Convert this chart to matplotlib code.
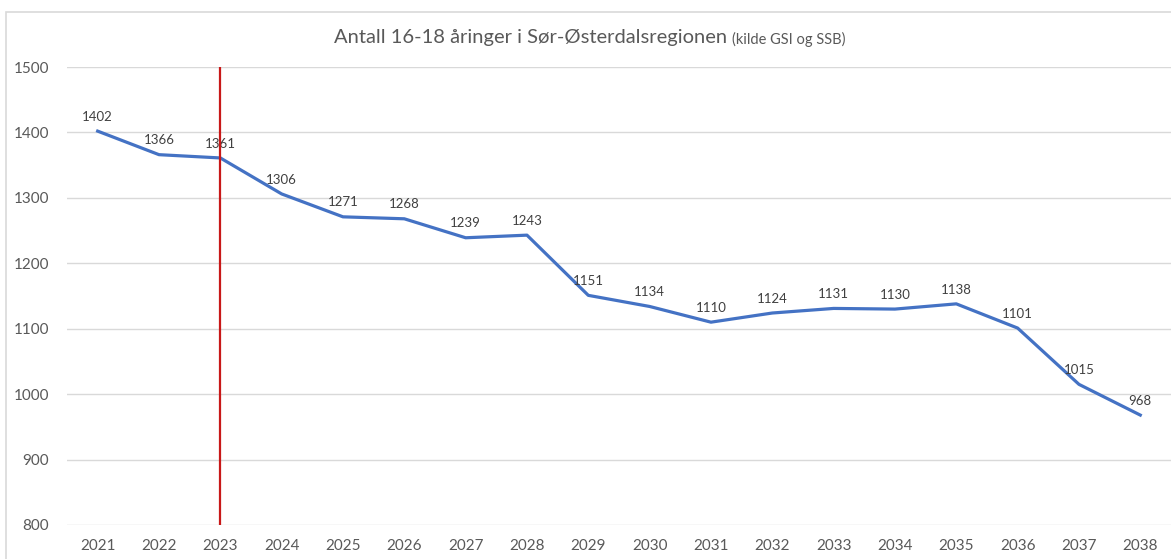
import matplotlib
matplotlib.use("Agg")
import matplotlib.pyplot as plt
from matplotlib.patches import Rectangle

years = [str(y) for y in range(2021, 2039)]
antall = [1402, 1366, 1361, 1306, 1271, 1268, 1239, 1243, 1151, 1134,
          1110, 1124, 1131, 1130, 1138, 1101, 1015, 968]
marker_year = "2023"

plt.rcParams['font.family'] = ['Lato', 'DejaVu Sans']

fig = plt.figure(figsize=(11.71, 5.59), dpi=100)
ax = fig.add_axes([67/1171, 1 - 525/559, (1174 - 67)/1171, (525 - 67)/559])

# outer chart border (Excel style)
fig.patches.append(Rectangle((6/1171, -0.1), 1.2, 1 - 12/559 + 0.1,
                             transform=fig.transFigure, fill=False,
                             edgecolor='#d9d9d9', linewidth=1.2))

x = list(range(len(years)))
ax.plot(x, antall, color='#4472C4', linewidth=2.3, zorder=3)
for i, v in enumerate(antall):
    ax.annotate(str(v), xy=(i, v), xytext=(0, 6), textcoords='offset points',
                ha='center', va='bottom', fontsize=9.5, color='#404040')

xi = years.index(marker_year)
ax.axvline(xi, color='#C81818', linewidth=1.6, zorder=4)

ax.set_xlim(-0.5, len(years) - 0.45)
ax.set_ylim(800, 1500)
ax.set_yticks(range(800, 1501, 100))
ax.set_xticks(x)
ax.set_xticklabels(years)
ax.grid(axis='y', color='#d9d9d9', linewidth=1)
ax.set_axisbelow(True)
for s in ax.spines.values():
    s.set_visible(False)
ax.tick_params(length=0, labelsize=11, colors='#595959', pad=10)
ax.tick_params(axis='y', pad=13)

fig.text(727/1171, 1 - 38/559, "Antall 16-18 åringer i Sør-Østerdalsregionen",
         ha='right', va='center', fontsize=14.5, color='#595959')
fig.text(732/1171, 1 - 39/559, "(kilde GSI og SSB)",
         ha='left', va='center', fontsize=10.5, color='#595959')

fig.savefig("out.png", dpi=100)
